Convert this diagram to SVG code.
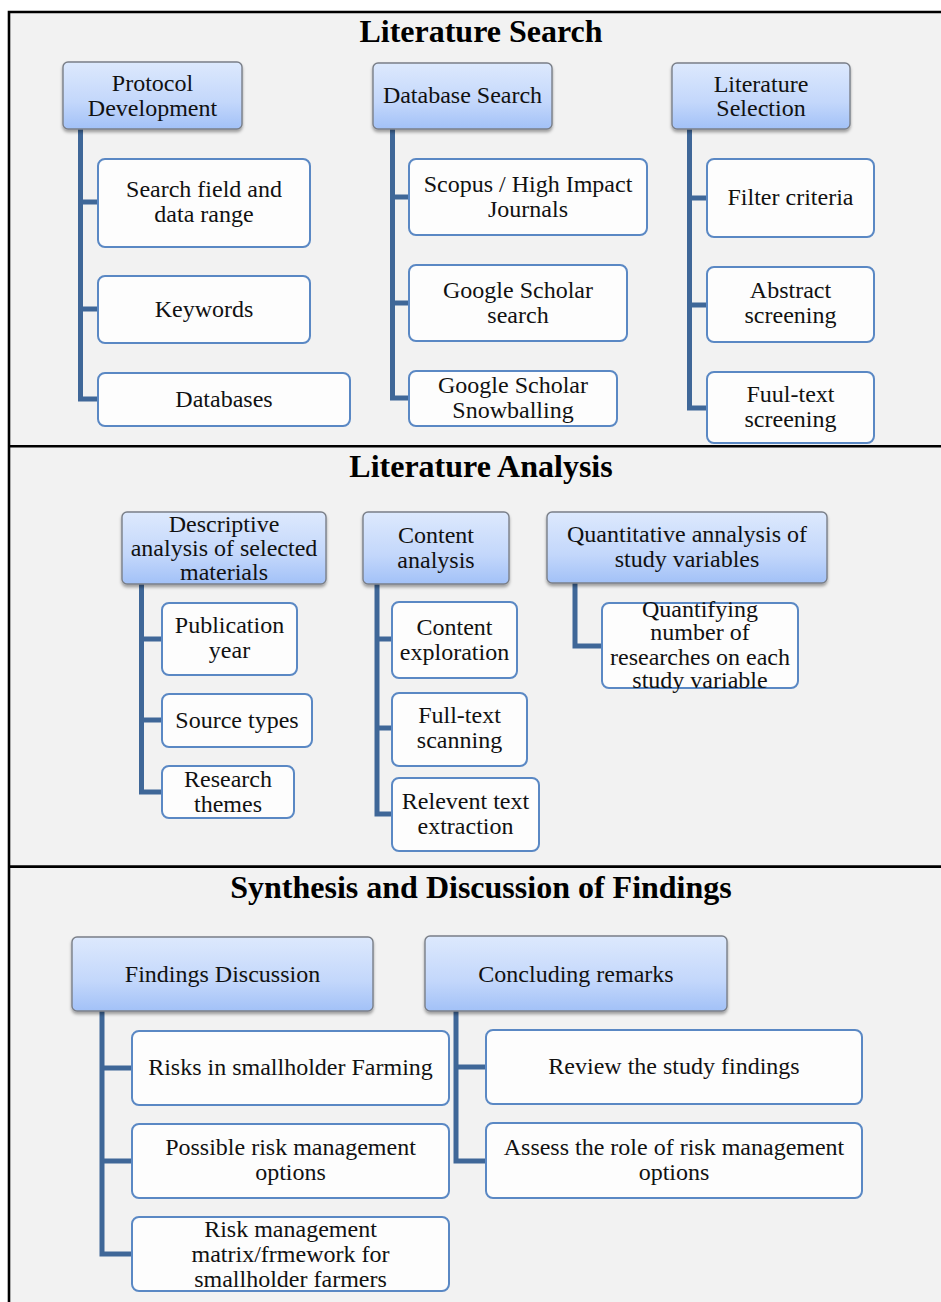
<svg xmlns="http://www.w3.org/2000/svg" width="941" height="1302" viewBox="0 0 941 1302">
<defs>
<linearGradient id="hg" x1="0" y1="0" x2="0" y2="1">
<stop offset="0" stop-color="#dde9fd"/>
<stop offset="0.6" stop-color="#c3d7fb"/>
<stop offset="1" stop-color="#a2c1f7"/>
</linearGradient>
<filter id="sh" x="-10%" y="-10%" width="120%" height="130%">
<feDropShadow dx="0" dy="2.5" stdDeviation="1.8" flood-color="#000" flood-opacity="0.35"/>
</filter>
</defs>
<style>
.frame{fill:none;stroke:#000;stroke-width:2.6}
.title{font-family:"Liberation Serif","Times New Roman",serif;font-weight:bold;font-size:32px;fill:#000;text-anchor:middle}
.t{font-family:"Liberation Serif","Times New Roman",serif;font-size:24px;fill:#111;text-anchor:middle}
.hdr rect{fill:url(#hg);stroke:#7a7f88;stroke-width:1.4;filter:url(#sh)}
.box rect{fill:#fdfdfd;stroke:#5a88c4;stroke-width:2}
.conn path{fill:none;stroke:#3f6798;stroke-width:5;stroke-linejoin:miter}
</style>
<rect x="0" y="0" width="941" height="1302" fill="#ffffff"/>
<rect x="9" y="12" width="932" height="1290" fill="#f2f2f2"/>
<path class="frame" d="M9,1302 V12 H941 M9,446.3 H941 M9,866.6 H941"/>

<text class="title" x="481" y="41.5">Literature Search</text>
<text class="title" x="481" y="477">Literature Analysis</text>
<text class="title" x="481" y="897.5">Synthesis and Discussion of Findings</text>

<g id="connectors" class="conn">
<path d="M80.5,129 V399 H99 M80.5,202 H99 M80.5,309 H99"/>
<path d="M392.5,129 V398 H410 M392.5,197 H410 M392.5,303 H410"/>
<path d="M689.5,129 V408 H708 M689.5,198 H708 M689.5,305 H708"/>
<path d="M141.5,584 V792 H163 M141.5,639 H163 M141.5,720 H163"/>
<path d="M377,584 V814 H393 M377,639 H393 M377,728 H393"/>
<path d="M575,583 V646 H603"/>
<path d="M102,1011 V1254 H133 M102,1068 H133 M102,1161 H133"/>
<path d="M456,1011 V1161 H487 M456,1067 H487"/>
</g>

<!-- Section 1 headers -->
<g id="protocol" class="hdr"><rect x="63" y="62" width="179" height="67" rx="5"/><text class="t" x="152.5" y="91">Protocol</text><text class="t" x="152.5" y="116">Development</text></g>
<g id="database" class="hdr"><rect x="373" y="63" width="179" height="66" rx="5"/><text class="t" x="462.5" y="103">Database Search</text></g>
<g id="litsel" class="hdr"><rect x="672" y="63" width="178" height="66" rx="5"/><text class="t" x="761" y="92">Literature</text><text class="t" x="761" y="116">Selection</text></g>

<!-- Section 1 children -->
<g id="searchfield" class="box"><rect x="98" y="159" width="212" height="88" rx="7"/><text class="t" x="204" y="197">Search field and</text><text class="t" x="204" y="222">data range</text></g>
<g id="keywords" class="box"><rect x="98" y="276" width="212" height="67" rx="7"/><text class="t" x="204" y="317">Keywords</text></g>
<g id="databases" class="box"><rect x="98" y="373" width="252" height="53" rx="7"/><text class="t" x="224" y="407">Databases</text></g>
<g id="scopus" class="box"><rect x="409" y="159" width="238" height="76" rx="7"/><text class="t" x="528" y="192">Scopus / High Impact</text><text class="t" x="528" y="217">Journals</text></g>
<g id="gssearch" class="box"><rect x="409" y="265" width="218" height="76" rx="7"/><text class="t" x="518" y="298">Google Scholar</text><text class="t" x="518" y="323">search</text></g>
<g id="gssnow" class="box"><rect x="409" y="371" width="208" height="55" rx="7"/><text class="t" x="513" y="393">Google Scholar</text><text class="t" x="513" y="418">Snowballing</text></g>
<g id="filter" class="box"><rect x="707" y="159" width="167" height="78" rx="7"/><text class="t" x="790.5" y="205">Filter criteria</text></g>
<g id="abstract" class="box"><rect x="707" y="267" width="167" height="75" rx="7"/><text class="t" x="790.5" y="298">Abstract</text><text class="t" x="790.5" y="323">screening</text></g>
<g id="fulltext1" class="box"><rect x="707" y="372" width="167" height="71" rx="7"/><text class="t" x="790.5" y="402">Fuul-text</text><text class="t" x="790.5" y="427">screening</text></g>

<!-- Section 2 headers -->
<g id="descriptive" class="hdr"><rect x="122" y="512" width="204" height="72" rx="5"/><text class="t" x="224" y="532">Descriptive</text><text class="t" x="224" y="556">analysis of selected</text><text class="t" x="224" y="580">materials</text></g>
<g id="content" class="hdr"><rect x="363" y="512" width="146" height="72" rx="5"/><text class="t" x="436" y="543">Content</text><text class="t" x="436" y="568">analysis</text></g>
<g id="quant" class="hdr"><rect x="547" y="512" width="280" height="71" rx="5"/><text class="t" x="687" y="542">Quantitative annalysis of</text><text class="t" x="687" y="567">study variables</text></g>

<!-- Section 2 children -->
<g id="pubyear" class="box"><rect x="162" y="603" width="135" height="72" rx="7"/><text class="t" x="229.5" y="633">Publication</text><text class="t" x="229.5" y="658">year</text></g>
<g id="source" class="box"><rect x="162" y="694" width="150" height="53" rx="7"/><text class="t" x="237" y="728">Source types</text></g>
<g id="themes" class="box"><rect x="162" y="766" width="132" height="52" rx="7"/><text class="t" x="228" y="787">Research</text><text class="t" x="228" y="812">themes</text></g>
<g id="exploration" class="box"><rect x="392" y="602" width="125" height="76" rx="7"/><text class="t" x="454.5" y="635">Content</text><text class="t" x="454.5" y="660">exploration</text></g>
<g id="scanning" class="box"><rect x="392" y="693" width="135" height="73" rx="7"/><text class="t" x="459.5" y="723">Full-text</text><text class="t" x="459.5" y="748">scanning</text></g>
<g id="relevent" class="box"><rect x="392" y="778" width="147" height="73" rx="7"/><text class="t" x="465.5" y="809">Relevent text</text><text class="t" x="465.5" y="834">extraction</text></g>
<g id="quantifying" class="box"><rect x="602" y="603" width="196" height="85" rx="7"/><text class="t" x="700" y="617">Quantifying</text><text class="t" x="700" y="640">number of</text><text class="t" x="700" y="665">researches on each</text><text class="t" x="700" y="688">study variable</text></g>

<!-- Section 3 headers -->
<g id="findings" class="hdr"><rect x="72" y="937" width="301" height="74" rx="5"/><text class="t" x="222.5" y="982">Findings Discussion</text></g>
<g id="concluding" class="hdr"><rect x="425" y="936" width="302" height="75" rx="5"/><text class="t" x="576" y="982">Concluding remarks</text></g>

<!-- Section 3 children -->
<g id="risks" class="box"><rect x="132" y="1031" width="317" height="74" rx="7"/><text class="t" x="290.5" y="1075">Risks in smallholder Farming</text></g>
<g id="possible" class="box"><rect x="132" y="1124" width="317" height="74" rx="7"/><text class="t" x="290.5" y="1155">Possible risk management</text><text class="t" x="290.5" y="1180">options</text></g>
<g id="matrix" class="box"><rect x="132" y="1217" width="317" height="74" rx="7"/><text class="t" x="290.5" y="1237">Risk management</text><text class="t" x="290.5" y="1262">matrix/frmework for</text><text class="t" x="290.5" y="1287">smallholder farmers</text></g>
<g id="review" class="box"><rect x="486" y="1030" width="376" height="74" rx="7"/><text class="t" x="674" y="1074">Review the study findings</text></g>
<g id="assess" class="box"><rect x="486" y="1123" width="376" height="75" rx="7"/><text class="t" x="674" y="1155">Assess the role of risk management</text><text class="t" x="674" y="1180">options</text></g>
</svg>
